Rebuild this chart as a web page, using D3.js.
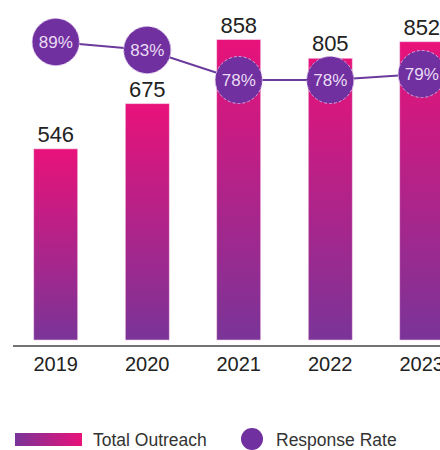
<!DOCTYPE html>
<html>
<head>
<meta charset="utf-8">
<script src="https://cdn.jsdelivr.net/npm/d3@7"></script>
<style>
  html, body { margin: 0; padding: 0; background: #fff; }
  svg { display: block; font-family: "Liberation Sans", Arial, sans-serif; }
</style>
</head>
<body>
<div id="chart"></div>
<script>
var years = ["2019", "2020", "2021", "2022", "2023"];
var outreach = [546, 675, 858, 805, 852];
var responseRate = [89, 83, 78, 78, 79];
var legendLabels = ["Total Outreach", "Response Rate"];

var width = 440, height = 450;
var pink = "#e8127a", purple = "#7a3498", dotColor = "#7030a0";

var svg = d3.select("#chart").append("svg")
    .attr("width", width)
    .attr("height", height);

var defs = svg.append("defs");
var barGrad = defs.append("linearGradient")
    .attr("id", "barGrad")
    .attr("x1", 0).attr("y1", 0).attr("x2", 0).attr("y2", 1);
barGrad.append("stop").attr("offset", "0%").attr("stop-color", pink);
barGrad.append("stop").attr("offset", "100%").attr("stop-color", purple);

var legendGrad = defs.append("linearGradient")
    .attr("id", "legendGrad")
    .attr("x1", 0).attr("y1", 0).attr("x2", 1).attr("y2", 0);
legendGrad.append("stop").attr("offset", "0%").attr("stop-color", purple);
legendGrad.append("stop").attr("offset", "100%").attr("stop-color", pink);

var x = d3.scaleBand()
    .domain(years)
    .range([10, 467.5])
    .paddingInner(0.52)
    .paddingOuter(0.26);

var y = d3.scaleLinear()
    .domain([0, 900])
    .range([340, 25]);

// the dots are not on a straight scale in the original, so bend it a bit
var yRate = d3.scaleLinear()
    .domain([78, 83, 89])
    .range([80, 50, 42]);

var cx = function(d, i) { return x(years[i]) + x.bandwidth() / 2; };

// bars
svg.append("g").selectAll("rect")
    .data(outreach)
    .enter().append("rect")
    .attr("x", function(d, i) { return x(years[i]); })
    .attr("y", function(d) { return y(d); })
    .attr("width", x.bandwidth())
    .attr("height", function(d) { return y(0) - y(d); })
    .attr("fill", "url(#barGrad)")
    .attr("stroke", "#f2c6e4")
    .attr("stroke-width", 0.6);

// value labels
svg.append("g").selectAll("text")
    .data(outreach)
    .enter().append("text")
    .attr("x", cx)
    .attr("y", function(d) { return y(d) - 7; })
    .attr("text-anchor", "middle")
    .style("font-size", "22px")
    .style("fill", "#222")
    .text(function(d) { return d; });

// x axis
var xAxis = svg.append("g")
    .attr("transform", "translate(0,346)")
    .call(d3.axisBottom(x).tickSize(0).tickPadding(11));
xAxis.select(".domain")
    .attr("d", "M13,0H" + width)
    .attr("stroke", "#444")
    .attr("stroke-width", 1.5);
xAxis.selectAll("text")
    .style("font-size", "20px")
    .style("fill", "#222")
    .style("font-family", "'Liberation Sans', Arial, sans-serif");

// response rate line
var line = d3.line()
    .x(function(d, i) { return cx(d, i); })
    .y(function(d) { return yRate(d); });

svg.append("path")
    .datum(responseRate)
    .attr("d", line)
    .attr("fill", "none")
    .attr("stroke", "#6a3a9c")
    .attr("stroke-width", 2);

var dots = svg.append("g").selectAll("g")
    .data(responseRate)
    .enter().append("g")
    .attr("transform", function(d, i) { return "translate(" + cx(d, i) + "," + yRate(d) + ")"; });

dots.append("circle")
    .attr("r", 23.5)
    .attr("fill", dotColor)
    .attr("stroke", "#c8a8e0")
    .attr("stroke-width", 1)
    .attr("stroke-dasharray", "3,2");

dots.append("text")
    .attr("text-anchor", "middle")
    .attr("dy", "0.35em")
    .style("font-size", "17px")
    .style("fill", "#eadcf4")
    .text(function(d) { return d + "%"; });

// legend
var legend = svg.append("g");
legend.append("rect")
    .attr("x", 15).attr("y", 433)
    .attr("width", 67).attr("height", 13)
    .attr("fill", "url(#legendGrad)");
legend.append("text")
    .attr("x", 93).attr("y", 446)
    .style("font-size", "17.5px")
    .style("fill", "#333")
    .text(legendLabels[0]);
legend.append("circle")
    .attr("cx", 252).attr("cy", 439)
    .attr("r", 11)
    .attr("fill", dotColor);
legend.append("text")
    .attr("x", 276).attr("y", 446)
    .style("font-size", "17.5px")
    .style("fill", "#333")
    .text(legendLabels[1]);
</script>
</body>
</html>
